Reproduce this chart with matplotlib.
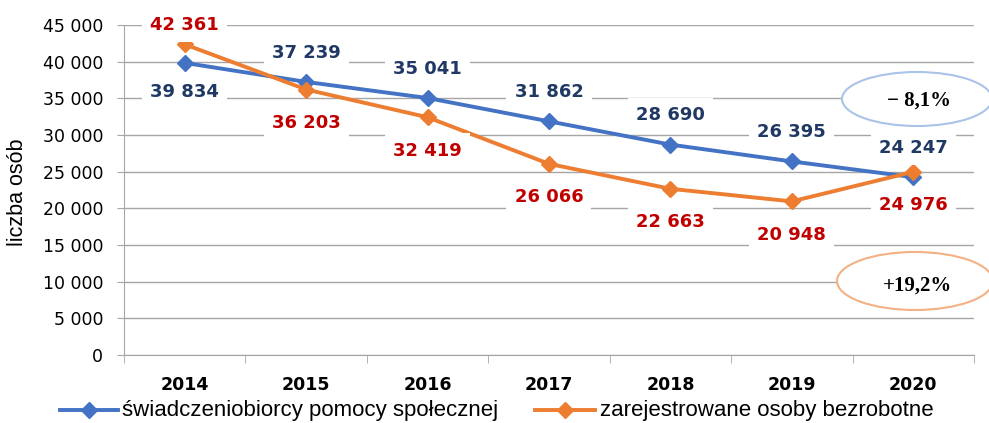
import matplotlib
matplotlib.use("Agg")
import matplotlib.pyplot as plt
from matplotlib.patches import Ellipse
from matplotlib.lines import Line2D

plt.rcParams['font.family'] = ['DejaVu Sans']

years = ["2014", "2015", "2016", "2017", "2018", "2019", "2020"]
beneficiaries = [39834, 37239, 35041, 31862, 28690, 26395, 24247]
unemployed = [42361, 36203, 32419, 26066, 22663, 20948, 24976]
ben_label_pos = ["below", "above", "above", "above", "above", "above", "above"]
unemp_label_pos = ["above", "below", "below", "below", "below", "below", "below"]
series_names = ["świadczeniobiorcy pomocy społecznej", "zarejestrowane osoby bezrobotne"]
change_labels = ["− 8,1%", "+19,2%"]
yticks = list(range(0, 45001, 5000))

BLUE = "#4472C4"
ORANGE = "#ED7D31"
BLUE_TXT = "#203864"
RED_TXT = "#C00000"
GRID = "#A6A6A6"

W, H = 989, 423
fig = plt.figure(figsize=(W/100, H/100), dpi=100)
ax = fig.add_axes([124/W, 1-355/H, (974-124)/W, (355-25)/H])

x = list(range(len(years)))
ax.set_xlim(-0.5, len(years) - 0.5)
ax.set_ylim(0, 45000)
ax.set_yticks(yticks)
ax.set_yticklabels([f"{v:,}".replace(",", " ") for v in yticks], fontsize=12.5)
ax.yaxis.grid(True, color=GRID, lw=1)
ax.set_axisbelow(True)
ax.tick_params(axis='y', length=5, color=GRID, pad=10)

ax.set_xticks(x)
ax.set_xticklabels(years, fontsize=12.5, fontweight='bold')
ax.tick_params(axis='x', length=0, pad=15)
ax.set_xticks([i - 0.5 for i in range(len(years) + 1)], minor=True)
ax.tick_params(axis='x', which='minor', length=6, color=GRID)

for s in ['top', 'right']:
    ax.spines[s].set_visible(False)
for s in ['left', 'bottom']:
    ax.spines[s].set_color(GRID)

fig.text(18/W, 1-192/H, "liczba osób", rotation=90, ha='center', va='center',
         fontsize=15.5, family=['Liberation Sans', 'DejaVu Sans'])

LW = 2.8
ax.plot(x, beneficiaries, color=BLUE, lw=LW, marker='D', ms=8, zorder=4)
ax.plot(x, unemployed, color=ORANGE, lw=LW, marker='D', ms=8, zorder=5)

for xi, v, p in zip(x, beneficiaries, ben_label_pos):
    off = 21 if p == "above" else -21
    ax.annotate(f"{v:,}".replace(",", " "), (xi, v), xytext=(0, off), textcoords='offset points',
                ha='center', va='center', fontsize=13, fontweight='bold', color=BLUE_TXT,
                bbox=dict(boxstyle="square,pad=0.45", fc="white", ec="none"), zorder=6)
for xi, v, p in zip(x, unemployed, unemp_label_pos):
    off = 14 if p == "above" else -24
    ax.annotate(f"{v:,}".replace(",", " "), (xi, v), xytext=(0, off), textcoords='offset points',
                ha='center', va='center', fontsize=13, fontweight='bold', color=RED_TXT,
                bbox=dict(boxstyle="square,pad=0.45", fc="white", ec="none"), zorder=6)

# ellipses with change labels
e1 = Ellipse((917/W, 1-99/H), 150/W, 54/H, transform=fig.transFigure,
             fc="white", ec="#A9C4E8", lw=1.5, zorder=7)
e2 = Ellipse((915/W, 1-281/H), 156/W, 58/H, transform=fig.transFigure,
             fc="white", ec="#F4B183", lw=1.5, zorder=7)
fig.add_artist(e1)
fig.add_artist(e2)
fig.text(919/W, 1-101/H, change_labels[0], ha='center', va='center', fontsize=15,
         fontweight='bold', family=['Liberation Serif', 'DejaVu Serif'], zorder=8)
fig.text(918/W, 1-286/H, change_labels[1], ha='center', va='center', fontsize=15,
         fontweight='bold', family=['Liberation Serif', 'DejaVu Serif'], zorder=8)

# legend (manual placement)
leg_y = 1 - 410/H
for (x0, x1, tx), col, name in zip([(60, 118, 122), (535, 595, 600)], [BLUE, ORANGE], series_names):
    fig.add_artist(Line2D([x0/W, x1/W], [leg_y, leg_y], transform=fig.transFigure,
                          color=col, lw=LW))
    fig.add_artist(Line2D([(x0+x1)/2/W], [leg_y], transform=fig.transFigure,
                          color=col, marker='D', ms=8, lw=0))
    fig.text(tx/W, leg_y, name, ha='left', va='center', fontsize=16,
             family=['Liberation Sans', 'DejaVu Sans'])

fig.savefig("out.png", dpi=100)
